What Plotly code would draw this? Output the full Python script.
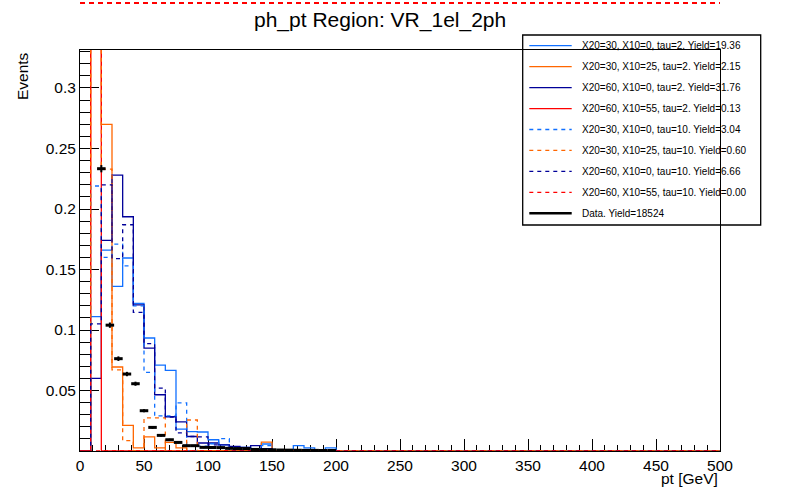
import numpy as np
import plotly.graph_objects as go

# ---------------- data ----------------
mc_nbins = 60          # 0-500 GeV, 8.33 GeV bins
data_nbins = 75        # 0-500 GeV, 6.67 GeV bins
xmin, xmax = 0.0, 500.0

names = [
    "X20=30, X10=0, tau=2. Yield=19.36",
    "X20=30, X10=25, tau=2. Yield=2.15",
    "X20=60, X10=0, tau=2. Yield=31.76",
    "X20=60, X10=55, tau=2. Yield=0.13",
    "X20=30, X10=0, tau=10. Yield=3.04",
    "X20=30, X10=25, tau=10. Yield=0.60",
    "X20=60, X10=0, tau=10. Yield=6.66",
    "X20=60, X10=55, tau=10. Yield=0.00",
]
data_name = "Data. Yield=18524"

s30_0_t2 = [0, 0.111, 0.166, 0.136, 0.1595, 0.122, 0.0934, 0.071, 0.0666, 0.018,
            0.016, 0.0157, 0.0093, 0.005, 0.003, 0.003, 0.002, 0.0058, 0, 0,
            0.0044, 0.0025, 0, 0.0025, 0, 0, 0, 0, 0, 0,
            0, 0, 0, 0, 0, 0, 0, 0, 0, 0,
            0, 0, 0, 0, 0, 0, 0, 0, 0, 0,
            0, 0, 0, 0, 0, 0, 0, 0, 0, 0]
s30_25_t2 = [0, 0.61, 0.27, 0.0694, 0.0212, 0.0025, 0.0116, 0.0025, 0.0072, 0.0025,
             0, 0, 0, 0, 0, 0, 0, 0.0074, 0, 0,
             0, 0, 0, 0, 0, 0, 0, 0, 0, 0,
             0, 0, 0, 0, 0, 0, 0, 0, 0, 0,
             0, 0, 0, 0, 0, 0, 0, 0, 0, 0,
             0, 0, 0, 0, 0, 0, 0, 0, 0, 0]
s60_0_t2 = [0, 0.06, 0.174, 0.228, 0.1936, 0.1207, 0.0851, 0.0465, 0.0283, 0.024,
            0.012, 0.0066, 0.0066, 0.005, 0.0038, 0.003, 0.0044, 0.002, 0, 0,
            0, 0, 0, 0, 0, 0, 0, 0, 0, 0,
            0, 0, 0, 0, 0, 0, 0, 0, 0, 0,
            0, 0, 0, 0, 0, 0, 0, 0, 0, 0,
            0, 0, 0, 0, 0, 0, 0, 0, 0, 0]
s60_55_t2 = [0, 1.0, 0, 0, 0, 0, 0, 0, 0, 0,
             0, 0, 0, 0, 0, 0, 0, 0, 0, 0,
             0, 0, 0, 0, 0, 0, 0, 0, 0, 0,
             0, 0, 0, 0, 0, 0, 0, 0, 0, 0,
             0, 0, 0, 0, 0, 0, 0, 0, 0, 0,
             0, 0, 0, 0, 0, 0, 0, 0, 0, 0]
s30_0_t10 = [0, 0.219, 0.16, 0.171, 0.153, 0.12, 0.065, 0.029, 0.029, 0.0397,
             0, 0.004, 0.006, 0.0102, 0, 0, 0, 0.0045, 0, 0,
             0, 0, 0, 0, 0, 0, 0, 0, 0, 0,
             0, 0, 0, 0, 0, 0, 0, 0, 0, 0,
             0, 0, 0, 0, 0, 0, 0, 0, 0, 0,
             0, 0, 0, 0, 0, 0, 0, 0, 0, 0]
s30_25_t10 = [0, 0.6, 0.233, 0.067, 0.0085, 0, 0.0273, 0.0273, 0, 0,
              0.0256, 0, 0, 0, 0, 0, 0, 0, 0, 0,
              0, 0, 0, 0, 0, 0, 0, 0, 0, 0,
              0, 0, 0, 0, 0, 0, 0, 0, 0, 0,
              0, 0, 0, 0, 0, 0, 0, 0, 0, 0,
              0, 0, 0, 0, 0, 0, 0, 0, 0, 0]
s60_0_t10 = [0, 0.105, 0.22, 0.159, 0.187, 0.1146, 0.0887, 0.052, 0.028, 0.0149,
             0.012, 0.0116, 0.005, 0.003, 0, 0, 0, 0, 0, 0,
             0, 0, 0, 0, 0, 0, 0, 0, 0, 0,
             0, 0, 0, 0, 0, 0, 0, 0, 0, 0,
             0, 0, 0, 0, 0, 0, 0, 0, 0, 0,
             0, 0, 0, 0, 0, 0, 0, 0, 0, 0]
s60_55_t10 = [0, 0, 0, 0, 0, 0, 0, 0, 0, 0,
              0, 0, 0, 0, 0, 0, 0, 0, 0, 0,
              0, 0, 0, 0, 0, 0, 0, 0, 0, 0,
              0, 0, 0, 0, 0, 0, 0, 0, 0, 0,
              0, 0, 0, 0, 0, 0, 0, 0, 0, 0,
              0, 0, 0, 0, 0, 0, 0, 0, 0, 0]

data_vals = [None, None, 0.2333, 0.104, 0.0763, 0.0636, 0.0556, 0.0333, 0.0195, 0.0129,
             0.0093, 0.0071, 0.0044, 0.0044, 0.003, 0.0029, 0.0028, 0.0022, 0.002, 0.002,
             0.0013, 0.0011, 0.001, 0.0008, 0.0007, 0.0006, 0.0005, 0.0005, 0.0004, 0.0004,
             None, None, None, None, None, None, None, None, None, None,
             None, None, None, None, None, None, None, None, None, None,
             None, None, None, None, None, None, None, None, None, None,
             None, None, None, None, None, None, None, None, None, None,
             None, None, None, None, None]
data_err = [0, 0, 0.0030, 0.0022, 0.0019, 0.0018, 0.0017, 0.0013, 0.0010, 0.0008,
            0.0007, 0.0006, 0.0005, 0.0005, 0.0004, 0.0004, 0.0004, 0.0003, 0.0003, 0.0003,
            0.0003, 0.0002, 0.0002, 0.0002, 0.0002, 0.0002, 0.0002, 0.0002, 0.0001, 0.0001,
            0, 0, 0, 0, 0, 0, 0, 0, 0, 0,
            0, 0, 0, 0, 0, 0, 0, 0, 0, 0,
            0, 0, 0, 0, 0, 0, 0, 0, 0, 0,
            0, 0, 0, 0, 0, 0, 0, 0, 0, 0,
            0, 0, 0, 0, 0]

x_ticks = [0, 50, 100, 150, 200, 250, 300, 350, 400, 450, 500]
y_ticks = [0.05, 0.1, 0.15, 0.2, 0.25, 0.3]
y_tick_text = ["0.05", "0.1", "0.15", "0.2", "0.25", "0.3"]

# ---------------- style ----------------
LB = "#1170ff"
OR = "#ff6600"
NV = "#000099"
RD = "#ff0000"
series = [s30_0_t2, s30_25_t2, s60_0_t2, s60_55_t2,
          s30_0_t10, s30_25_t10, s60_0_t10, s60_55_t10]
colors = [LB, OR, NV, RD, LB, OR, NV, RD]
dashes = ["solid"] * 4 + ["4px,4px"] * 4
FONT = "Liberation Sans, Arial, Helvetica, sans-serif"

W, H = 800, 500
L, R, T, B = 80, 80, 50, 49
PW, PH = W - L - R, H - T - B


def px(xp):
    return (xp - L) / PW


def py(yp):
    return (H - B - yp) / PH


mc_edges = np.linspace(xmin, xmax, mc_nbins + 1)
dw = (xmax - xmin) / data_nbins
data_centers = np.linspace(xmin + dw / 2, xmax - dw / 2, data_nbins)

fig = go.Figure()
for i, (vals, c, d, n) in enumerate(zip(series, colors, dashes, names)):
    fig.add_trace(go.Scatter(
        x=mc_edges, y=list(vals) + [vals[-1]],
        mode="lines", line=dict(color=c, width=1.3, dash=d, shape="hv"),
        name=n, showlegend=False, hoverinfo="skip"))

fig.add_trace(go.Scatter(
    x=data_centers, y=data_vals, mode="markers", name=data_name,
    marker=dict(color="black", size=2),
    error_x=dict(type="constant", value=dw / 2, thickness=3, width=0, color="black"),
    error_y=dict(type="data", array=data_err, thickness=2, width=0, color="black"),
    showlegend=False, hoverinfo="skip"))

# ---- legend (TLegend-like box drawn by hand) ----
shapes = [
    dict(type="rect", xref="paper", yref="paper",
         x0=px(522.7), x1=px(760.7), y0=py(225), y1=py(35),
         line=dict(color="black", width=1.3), fillcolor="white", layer="below"),
    dict(type="line", xref="paper", yref="paper", x0=0, x1=1,
         y0=py(3), y1=py(3), line=dict(color=RD, width=2, dash="5px,4px")),
]
annotations = []
leg_labels = names + [data_name]
leg_colors = colors + ["black"]
leg_dash = dashes + ["solid"]
leg_width = [1.3] * 8 + [2.6]
for i, (lab, c, d, lw) in enumerate(zip(leg_labels, leg_colors, leg_dash, leg_width)):
    yrow = 45.7 + 20.95 * i
    shapes.append(dict(type="line", xref="paper", yref="paper",
                       x0=px(529.3), x1=px(571.7), y0=py(yrow), y1=py(yrow),
                       line=dict(color=c, width=lw, dash=d)))
    annotations.append(dict(text=lab, xref="paper", yref="paper",
                            x=px(579.5), y=py(yrow), xanchor="left", yanchor="middle",
                            showarrow=False, font=dict(size=10, family=FONT)))

annotations += [
    dict(text="ph_pt Region: VR_1el_2ph", xref="paper", yref="paper",
         x=0.4695, y=1.0748, xanchor="center", yanchor="middle",
         showarrow=False, font=dict(size=21, family=FONT)),
    dict(text="pt [GeV]", xref="paper", yref="paper", x=1.0, y=-0.069,
         xanchor="right", yanchor="middle", showarrow=False,
         font=dict(size=15.5, family=FONT)),
    dict(text="Events", xref="paper", yref="paper", x=-0.0906, y=1.0,
         xanchor="center", yanchor="top", textangle=-90, showarrow=False,
         font=dict(size=15.5, family=FONT)),
]

ymax = 0.3314
fig.update_layout(
    width=W, height=H,
    margin=dict(l=L, r=R, t=T, b=B),
    paper_bgcolor="white", plot_bgcolor="white",
    font=dict(family=FONT, color="black"),
    showlegend=False,
    xaxis=dict(range=[xmin, xmax], showgrid=False, zeroline=False,
               showline=True, linecolor="black", linewidth=1, mirror=True,
               ticks="inside", ticklen=12, tickcolor="black", tickwidth=1,
               tickvals=x_ticks, tickfont=dict(size=15.5, family=FONT),
               minor=dict(ticks="inside", ticklen=6, tickcolor="black",
                          tick0=0, dtick=10),
               layer="below traces"),
    yaxis=dict(range=[0, ymax], showgrid=False, zeroline=False,
               showline=True, linecolor="black", linewidth=1, mirror=True,
               ticks="inside", ticklen=19, tickcolor="black", tickwidth=1,
               tickvals=y_ticks, ticktext=y_tick_text,
               tickfont=dict(size=15.5, family=FONT),
               minor=dict(ticks="inside", ticklen=10, tickcolor="black",
                          tick0=0, dtick=0.01),
               layer="below traces"),
    annotations=annotations,
    shapes=shapes,
)

fig.write_html("out.html", config={"displayModeBar": False},
               post_script="document.body.style.margin='0px';document.body.style.padding='0px';")
